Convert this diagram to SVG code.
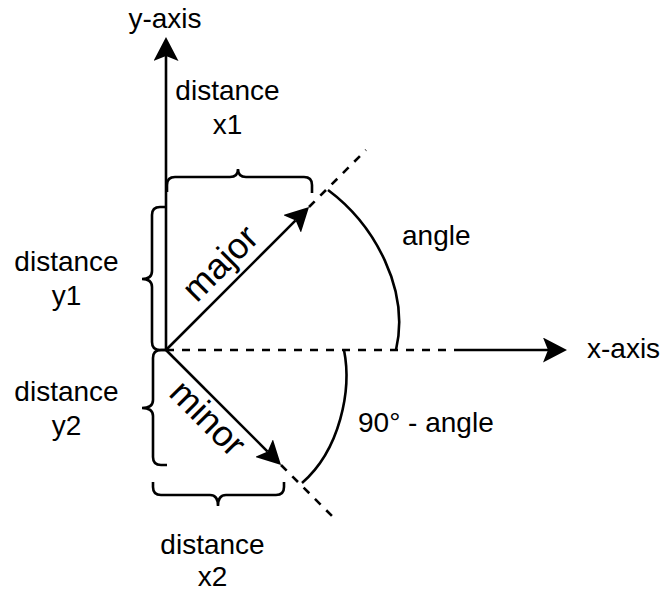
<svg xmlns="http://www.w3.org/2000/svg" width="663" height="592" viewBox="0 0 663 592">
<style>
.t{font-family:"Liberation Sans",Arial,Helvetica,sans-serif;font-size:28px;fill:#000}
.big{font-size:36px}
.ln{fill:none;stroke:#000;stroke-width:2.6}
.dash{fill:none;stroke:#000;stroke-width:2.6;stroke-dasharray:8 8}
</style>
<defs>
<marker id="arr" markerUnits="userSpaceOnUse" markerWidth="25" markerHeight="25" refX="5" refY="12.5" orient="auto">
<path d="M24,12.5 L0,0 L5,12.5 L0,25 Z" fill="#000"/>
</marker>
</defs>
<rect width="663" height="592" fill="#fff"/>
<g id="connectors">
<path class="ln" d="M166 350 L166 56" marker-end="url(#arr)"/>
<path class="dash" d="M166 350 L455 350"/>
<path class="ln" d="M455 350 L548 350" marker-end="url(#arr)"/>
<path class="ln" d="M166 350 L295.6 220.4" marker-end="url(#arr)"/>
<path class="dash" d="M309 207 L366 150"/>
<path class="ln" d="M166 350 L267.6 451.6" marker-end="url(#arr)"/>
<path class="dash" d="M281 465 L337 521"/>
</g>
<g id="arc-angle"><path class="ln" d="M328 190 C375 225 410 290 396 350"/></g>
<g id="arc-complement"><path class="ln" d="M344 350 C352 390 340 450 302 483"/></g>
<g id="brace-x1"><path class="ln" d="M167 192 L167 185 Q167 177 175 177 L230 177 Q238 177 238 169 Q238 177 246 177 L304 177 Q312 177 312 185 L312 193"/></g>
<g id="brace-y1"><path class="ln" d="M166 207 L160 207 Q152 207 152 215 L152 271 Q152 279 142 279 Q152 279 152 287 L152 342 Q152 350 160 350 L166 350"/></g>
<g id="brace-y2"><path class="ln" d="M167 350 L161 350 Q153 350 153 358 L153 400 Q153 408 142 408 Q153 408 153 416 L153 457 Q153 465 161 465 L167 465"/></g>
<g id="brace-x2"><path class="ln" d="M153 482 L153 487 Q153 495 161 495 L210 495 Q218 495 218 506 Q218 495 226 495 L276 495 Q284 495 284 487 L284 482"/></g>
<g id="label-yaxis"><text class="t" x="165" y="28" text-anchor="middle">y-axis</text></g>
<g id="label-xaxis"><text class="t" x="587" y="358">x-axis</text></g>
<g id="label-x1"><text class="t" x="227.5" y="100" text-anchor="middle">distance</text><text class="t" x="227.5" y="134" text-anchor="middle">x1</text></g>
<g id="label-y1"><text class="t" x="66.5" y="271" text-anchor="middle">distance</text><text class="t" x="66.5" y="305" text-anchor="middle">y1</text></g>
<g id="label-y2"><text class="t" x="66.5" y="401" text-anchor="middle">distance</text><text class="t" x="66.5" y="435" text-anchor="middle">y2</text></g>
<g id="label-x2"><text class="t" x="212.5" y="554" text-anchor="middle">distance</text><text class="t" x="212.5" y="586" text-anchor="middle">x2</text></g>
<g id="label-major"><text class="t big" x="228.7" y="271.7" text-anchor="middle" transform="rotate(-45 228.7 271.7)">major</text></g>
<g id="label-minor"><text class="t big" x="199.3" y="426.7" text-anchor="middle" transform="rotate(45 199.3 426.7)">minor</text></g>
<g id="label-angle"><text class="t" x="402" y="245">angle</text></g>
<g id="label-complement"><text class="t" x="358" y="432">90° - angle</text></g>
</svg>
